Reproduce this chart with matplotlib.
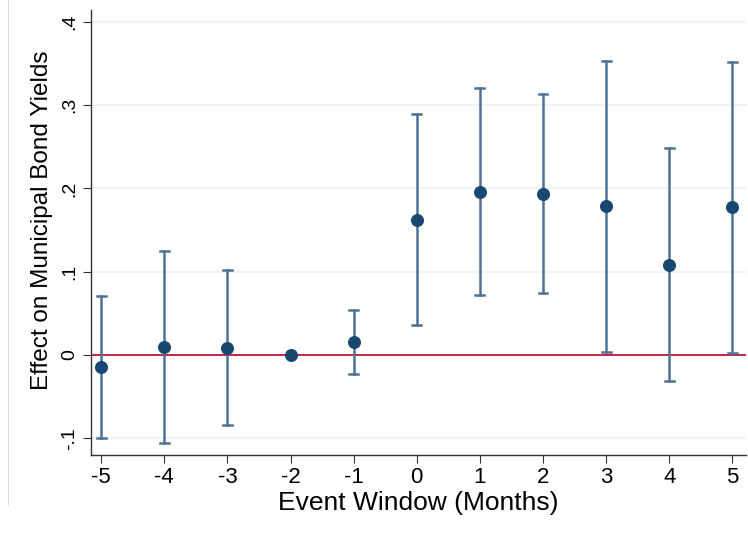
import numpy as np
import matplotlib
matplotlib.use("Agg")
from matplotlib import pyplot as plt

# event window (months) and estimates
months = [-5, -4, -3, -2, -1, 0, 1, 2, 3, 4, 5]
coef = [-0.014, 0.010, 0.009, 0.0, 0.016, 0.162, 0.196, 0.193, 0.179, 0.108, 0.178]
ci_low = [-0.100, -0.106, -0.084, np.nan, -0.023, 0.036, 0.072, 0.074, 0.004, -0.031, 0.002]
ci_high = [0.071, 0.125, 0.102, np.nan, 0.054, 0.289, 0.320, 0.313, 0.353, 0.248, 0.352]

yticks = [-0.1, 0, 0.1, 0.2, 0.3, 0.4]
ytick_labels = ["-.1", "0", ".1", ".2", ".3", ".4"]

plt.rcParams['font.family'] = ['Liberation Sans', 'DejaVu Sans']

fig = plt.figure(figsize=(7.48, 5.34), dpi=100)
ax = fig.add_axes([0.1217, 0.148, 0.876, 0.833])

# faint graph region border on the left
fig.add_artist(plt.Line2D([0.011, 0.011], [0.055, 1.0], color="#dddddd", lw=0.8))

navy = "#1a476f"
bar_col = "#4f7294"

# confidence intervals (caps)
for m, lo, hi in zip(months, ci_low, ci_high):
    if np.isnan(lo):
        continue
    ax.plot([m, m], [lo, hi], color=bar_col, lw=1.8, zorder=2)
    ax.plot([m - 0.07, m + 0.07], [lo, lo], color=bar_col, lw=1.8, zorder=2)
    ax.plot([m - 0.07, m + 0.07], [hi, hi], color=bar_col, lw=1.8, zorder=2)

ax.axhline(0, color="#c1153b", lw=1.3, zorder=1)
ax.scatter(months, coef, s=70, color=navy, zorder=3)

ax.set_xlim(-5.16, 5.22)
ax.set_ylim(-0.12, 0.414)
ax.set_xticks(months)
ax.set_xticklabels([str(m) for m in months], fontsize=16)
ax.set_yticks(yticks)
ax.set_yticklabels(ytick_labels, rotation=90, va="center", fontsize=14)
ax.grid(axis="y", color="#eaf2f3", lw=1.2)
ax.set_axisbelow(True)

for s in ["top", "right"]:
    ax.spines[s].set_visible(False)
for s in ["left", "bottom"]:
    ax.spines[s].set_color("#333333")
    ax.spines[s].set_linewidth(1.0)
ax.tick_params(axis="both", direction="out", length=6, color="#333333", pad=3)

ax.set_xlabel("Event Window (Months)", fontsize=19, labelpad=2)
ax.set_ylabel("Effect on Municipal Bond Yields", fontsize=17.5, labelpad=6)
ax.yaxis.label.set_y(0.528)

plt.savefig("out.png", dpi=100)
